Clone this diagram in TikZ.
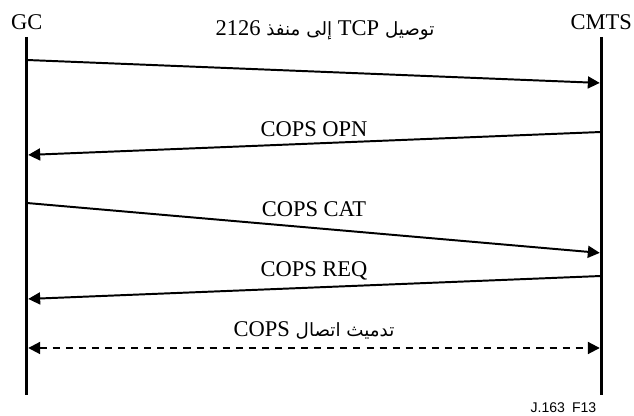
\documentclass[tikz,border=0pt]{standalone}
\usepackage{fontspec}
\setmainfont{Liberation Serif}
\setsansfont{Liberation Sans}
\newfontfamily\arabicfont[Script=Arabic]{DejaVu Sans}
\TeXXeTstate=1
\usetikzlibrary{arrows.meta}

\begin{document}
\begin{tikzpicture}[
    entity/.style={anchor=base, font=\fontsize{16}{18}\selectfont},
    msglabel/.style={anchor=base, font=\fontsize{16}{18}\selectfont},
    arlabel/.style={anchor=base, font=\fontsize{13}{16}\selectfont\arabicfont},
    lifeline/.style={line width=2.2pt},
    msg/.style={-{Triangle[length=8.5pt,width=8.5pt]}, line width=1.4pt, shorten >=1pt},
    teardown/.style={{Triangle[length=8.5pt,width=8.5pt]}-{Triangle[length=8.5pt,width=8.5pt]},
        line width=1.4pt, dash pattern=on 5pt off 4.3pt, shorten >=1pt, shorten <=1pt}
]
\useasboundingbox (0,0) rectangle (15.85,10.4);

% entities and lifelines
\node[entity] (gc) at (0.67,9.65) {GC};
\node[entity] (cmts) at (15.03,9.65) {CMTS};
\coordinate (gctop) at (0.67,9.475);
\coordinate (gcbot) at (0.67,0.525);
\coordinate (cmtstop) at (15.03,9.475);
\coordinate (cmtsbot) at (15.03,0.525);
\draw[lifeline] (gctop) -- (gcbot);
\draw[lifeline] (cmtstop) -- (cmtsbot);

% message end points
\coordinate (gc1) at (0.67,8.9);      \coordinate (cmts1) at (15.03,8.325);
\coordinate (cmts2) at (15.03,7.1);   \coordinate (gc2) at (0.67,6.525);
\coordinate (gc3) at (0.67,5.325);    \coordinate (cmts3) at (15.03,4.075);
\coordinate (cmts4) at (15.03,3.5);   \coordinate (gc4) at (0.67,2.925);
\coordinate (gc5) at (0.67,1.7);      \coordinate (cmts5) at (15.03,1.7);

% labels
\node[arlabel] (tcp) at (8.125,9.5)
    {\beginR توصيل \beginL{\rmfamily\fontsize{16}{18}\selectfont TCP}\endL{} إلى منفذ \beginL{\rmfamily\fontsize{16}{18}\selectfont 2126}\endL\endR};
\node[msglabel] (opn) at (7.85,6.975) {COPS OPN};
\node[msglabel] (cat) at (7.85,4.975) {COPS CAT};
\node[msglabel] (req) at (7.85,3.475) {COPS REQ};
\node[arlabel] (tear) at (7.85,1.975)
    {\beginR تدميث اتصال \beginL{\rmfamily\fontsize{16}{18}\selectfont COPS}\endL\endR};
\node[anchor=base east, font=\sffamily\fontsize{10}{12}\selectfont] (fig) at (15.03,0.075) {J.163\enspace F13};

% messages
\draw[msg] (gc1) -- (cmts1);
\draw[msg] (cmts2) -- (gc2);
\draw[msg] (gc3) -- (cmts3);
\draw[msg] (cmts4) -- (gc4);
\draw[teardown] (gc5) -- (cmts5);

\end{tikzpicture}
\end{document}
